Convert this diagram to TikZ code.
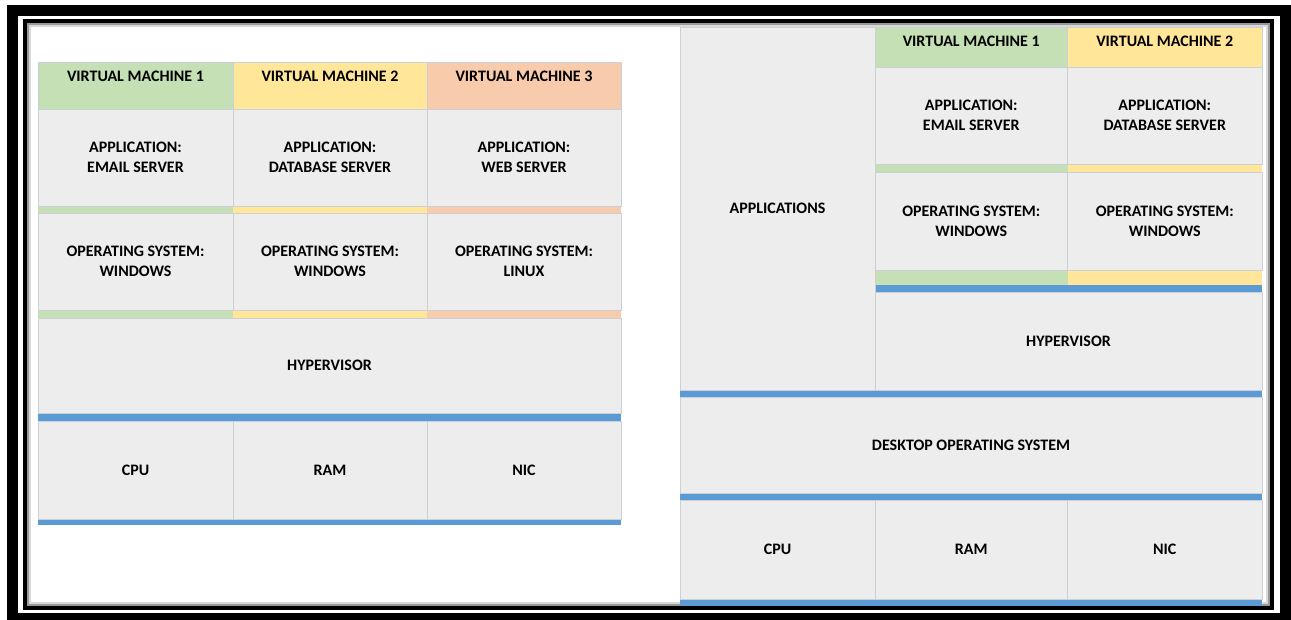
\documentclass[tikz,border=0pt]{standalone}
\usepackage{fontspec}
\setmainfont{Carlito}
\usepackage{tikz}
\usetikzlibrary{positioning}
\definecolor{vmgreen}{HTML}{C5E0B4}
\definecolor{vmyellow}{HTML}{FFE699}
\definecolor{vmorange}{HTML}{F8CBAD}
\definecolor{cellgray}{HTML}{EDEDED}
\definecolor{gridline}{HTML}{CBD0D6}
\definecolor{hwblue}{HTML}{5B9BD5}

\begin{document}
\begin{tikzpicture}[x=1pt, y=-1pt,
	cell/.style={draw=gridline, line width=0.9pt, fill=cellgray, inner sep=0pt, align=center,
		font=\bfseries\fontsize{16}{20}\selectfont},
	vmtext/.style={anchor=center, yshift=-15pt, font=\bfseries\fontsize{16}{20}\selectfont}]
	\useasboundingbox (0,0) rectangle (1291,620);
	
	% 外框阴影
	\draw[line width=2pt, black!40] (27.5,24.5) rectangle (1268.5,604.5);
	\draw[line width=2pt, black!15] (29.5,26.5) rectangle (1266.5,602.5);
	
	% 左图：色条
	\foreach \xa/\xb/\col in {38/233/vmgreen, 233/427/vmyellow, 427/621/vmorange} {
		\fill[\col] (\xa,206) rectangle (\xb,213);
		\fill[\col] (\xa,310) rectangle (\xb,318);
	}
	\fill[hwblue] (38,413) rectangle (621,421);
	\fill[hwblue] (38,519) rectangle (621,525);
	
	% 左图：虚拟机
	\node[cell, fill=vmgreen, minimum width=195pt, minimum height=47pt, label={[vmtext]north:VIRTUAL MACHINE 1}] (lvm1) at (135.5,85.5) {};
	\node[cell, fill=vmyellow, minimum width=194pt, minimum height=47pt, label={[vmtext]north:VIRTUAL MACHINE 2}] (lvm2) at (330,85.5) {};
	\node[cell, fill=vmorange, minimum width=194pt, minimum height=47pt, label={[vmtext]north:VIRTUAL MACHINE 3}] (lvm3) at (524,85.5) {};
	
	\node[cell, minimum width=195pt, minimum height=97pt] (lapp1) at (135.5,157.5) {APPLICATION:\\EMAIL SERVER};
	\node[cell, minimum width=194pt, minimum height=97pt] (lapp2) at (330,157.5) {APPLICATION:\\DATABASE SERVER};
	\node[cell, minimum width=194pt, minimum height=97pt] (lapp3) at (524,157.5) {APPLICATION:\\WEB SERVER};
	
	\node[cell, minimum width=195pt, minimum height=97pt] (los1) at (135.5,261.5) {OPERATING SYSTEM:\\WINDOWS};
	\node[cell, minimum width=194pt, minimum height=97pt] (los2) at (330,261.5) {OPERATING SYSTEM:\\WINDOWS};
	\node[cell, minimum width=194pt, minimum height=97pt] (los3) at (524,261.5) {OPERATING SYSTEM:\\LINUX};
	
	% 左图：硬件
	\node[cell, minimum width=583pt, minimum height=95pt] (lhyp) at (329.5,365.5) {HYPERVISOR};
	\node[cell, minimum width=195pt, minimum height=98pt] (lcpu) at (135.5,470) {CPU};
	\node[cell, minimum width=194pt, minimum height=98pt] (lram) at (330,470) {RAM};
	\node[cell, minimum width=194pt, minimum height=98pt] (lnic) at (524,470) {NIC};
	
	% 右图：色条
	\fill[vmgreen] (875,164.5) rectangle (1067.5,172.5);
	\fill[vmyellow] (1067.5,164.5) rectangle (1262,172.5);
	\fill[vmgreen] (875,270) rectangle (1067.5,285);
	\fill[vmyellow] (1067.5,270) rectangle (1262,285);
	\fill[hwblue] (875,285) rectangle (1262,292);
	\fill[hwblue] (680,390) rectangle (1262,397);
	\fill[hwblue] (680,493.5) rectangle (1262,500);
	\fill[hwblue] (680,599) rectangle (1262,606);
	
	% 右图：宿主机应用与虚拟机
	\node[cell, minimum width=195pt, minimum height=363pt] (rapps) at (777.5,208.5) {APPLICATIONS};
	\node[cell, fill=vmgreen, minimum width=192.5pt, minimum height=40pt, label={[vmtext]north:VIRTUAL MACHINE 1}] (rvm1) at (971.25,47) {};
	\node[cell, fill=vmyellow, minimum width=194.5pt, minimum height=40pt, label={[vmtext]north:VIRTUAL MACHINE 2}] (rvm2) at (1164.75,47) {};
	
	\node[cell, minimum width=192.5pt, minimum height=97.5pt] (rapp1) at (971.25,115.75) {APPLICATION:\\EMAIL SERVER};
	\node[cell, minimum width=194.5pt, minimum height=97.5pt] (rapp2) at (1164.75,115.75) {APPLICATION:\\DATABASE SERVER};
	\node[cell, minimum width=192.5pt, minimum height=97.5pt] (ros1) at (971.25,221.25) {OPERATING SYSTEM:\\WINDOWS};
	\node[cell, minimum width=194.5pt, minimum height=97.5pt] (ros2) at (1164.75,221.25) {OPERATING SYSTEM:\\WINDOWS};
	
	% 右图：硬件
	\node[cell, minimum width=387pt, minimum height=98pt] (rhyp) at (1068.5,341) {HYPERVISOR};
	\node[cell, minimum width=582pt, minimum height=96.5pt] (rdos) at (971,445.25) {DESKTOP OPERATING SYSTEM};
	\node[cell, minimum width=195pt, minimum height=99pt] (rcpu) at (777.5,549.5) {CPU};
	\node[cell, minimum width=192.5pt, minimum height=99pt] (rram) at (971.25,549.5) {RAM};
	\node[cell, minimum width=194.5pt, minimum height=99pt] (rnic) at (1164.75,549.5) {NIC};
	
	% 外框
	\draw[line width=11pt] (12.5,11) rectangle (1285.5,618.5);
	\draw[line width=4pt] (24.5,21.5) rectangle (1271.5,607.5);
\end{tikzpicture}
\end{document}
